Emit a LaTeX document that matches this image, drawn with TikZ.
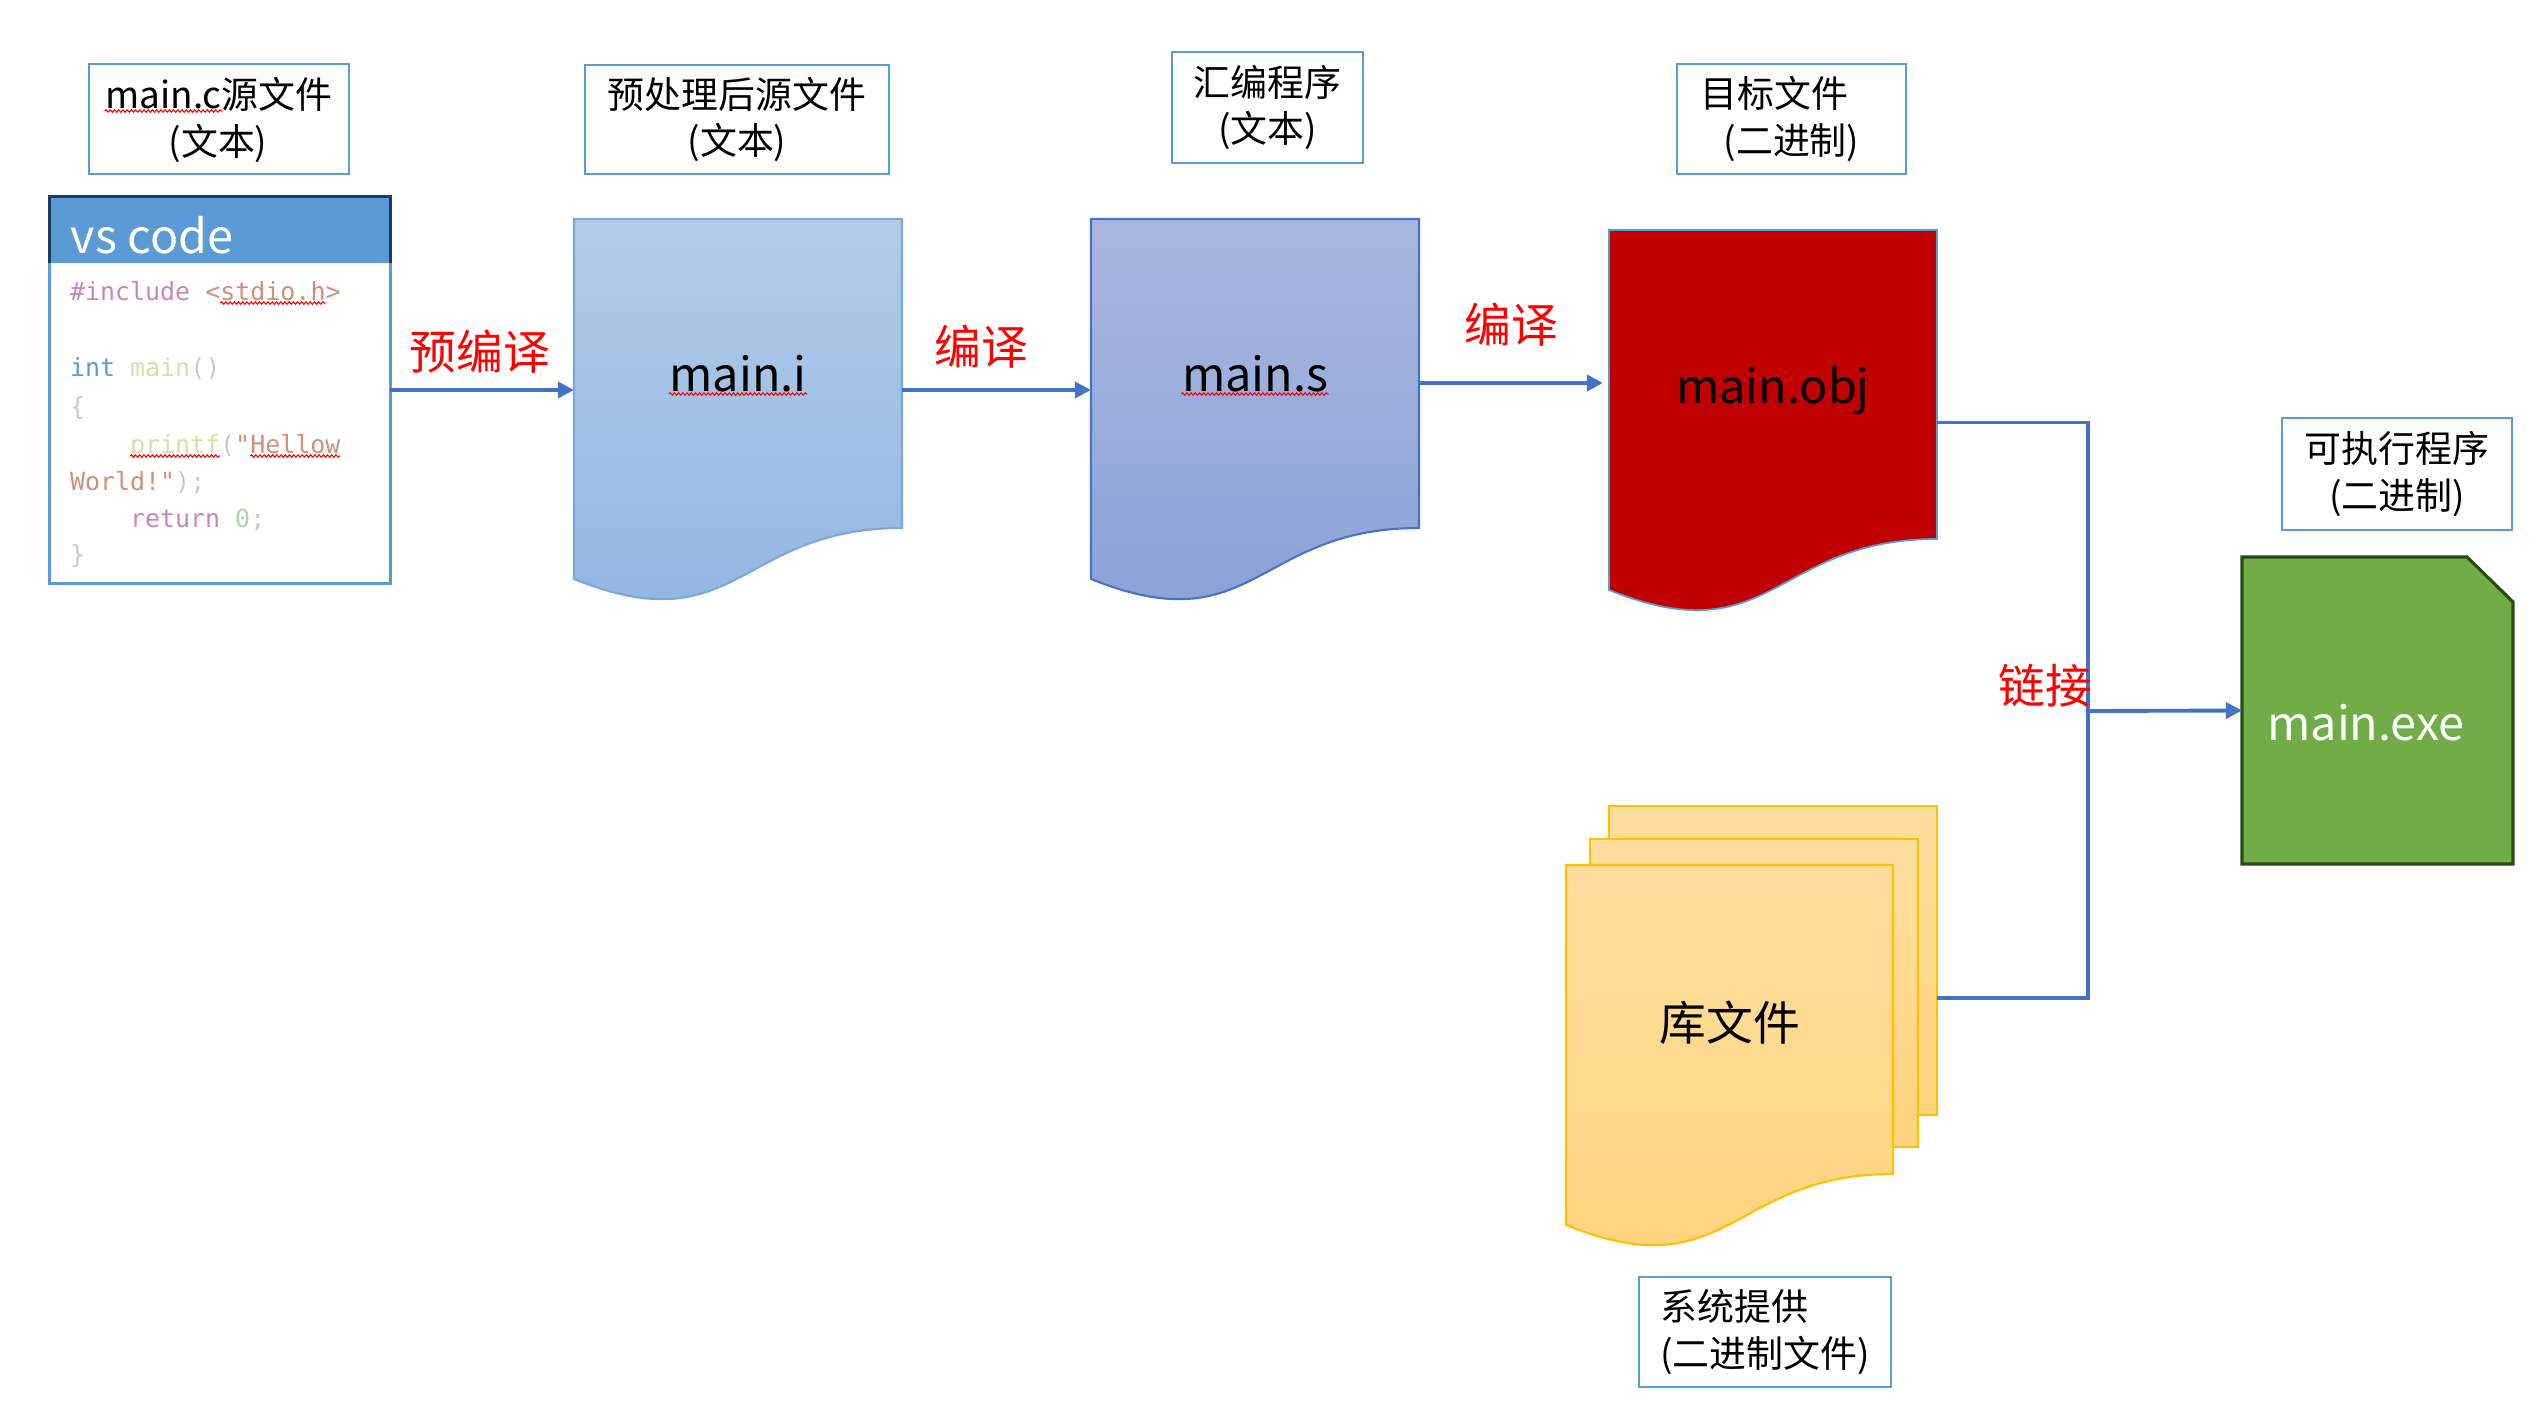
\documentclass[tikz,border=0pt]{standalone}
\usepackage{fontspec}
\setmainfont{Noto Sans CJK SC}
\setmonofont{DejaVu Sans Mono}
\usetikzlibrary{arrows.meta,decorations.pathmorphing}

\definecolor{boxblue}{HTML}{5B9BD5}
\definecolor{linkblue}{HTML}{4472C4}
\definecolor{navy}{HTML}{1F3A5F}
\definecolor{miTop}{HTML}{B2CBE8}
\definecolor{miBot}{HTML}{8FB5E2}
\definecolor{miEdge}{HTML}{7DA7D9}
\definecolor{msTop}{HTML}{A9B7DF}
\definecolor{msBot}{HTML}{88A0D7}
\definecolor{msEdge}{HTML}{4A72C4}
\definecolor{objRed}{HTML}{C00000}
\definecolor{libTop}{HTML}{FFDE9E}
\definecolor{libBot}{HTML}{FFD37C}
\definecolor{libEdge}{HTML}{FFC000}
\definecolor{exeGreen}{HTML}{70AD47}
\definecolor{exeEdge}{HTML}{2B4A18}
\definecolor{cpurple}{HTML}{C586C0}
\definecolor{corange}{HTML}{CE9178}
\definecolor{cblue}{HTML}{569CD6}
\definecolor{cyellow}{HTML}{DCDCAA}
\definecolor{cgrey}{HTML}{C8C8C8}
\definecolor{cgreen}{HTML}{B5CEA8}
\definecolor{labelred}{HTML}{FF0000}

\newcommand\lblfont{\fontsize{10.5pt}{13.1pt}\selectfont}
\newcommand\bigfont{\fontsize{13.3pt}{16pt}\selectfont}
\newcommand\codefont{\ttfamily\fontsize{7.1pt}{10.7pt}\selectfont}

% document shape: flat top, wavy bottom edge
\newcommand\docshape[4]{%
  \draw[#4] (#1,#2) -- ({#1+#3},#2) -- ({#1+#3},{#2+309})
    .. controls ({#1+#3/2},{#2+309}) and ({#1+#3/2},{#2+426}) .. (#1,{#2+360}) -- cycle;}
% red spell-check squiggle under a text node
\newcommand\squig[1]{%
  \draw[squiggle] ([yshift=-0.03cm]#1.base west) -- ([yshift=-0.03cm]#1.base east);}

\begin{document}
\begin{tikzpicture}[x=0.01cm,y=-0.01cm,
  arr/.style={draw=linkblue, line width=1.1pt, -{Triangle[length=0.16cm,width=0.16cm]}},
  lnk/.style={draw=linkblue, line width=1.1pt},
  lbox/.style={draw=boxblue, line width=0.6pt, inner sep=0pt, align=center, font=\lblfont},
  lbltxt/.style={anchor=base, inner sep=0pt, font=\lblfont},
  area/.style={inner sep=0pt, outer sep=0pt},
  bigtxt/.style={anchor=base, inner sep=0pt, font=\bigfont},
  redlbl/.style={inner sep=0pt, text=labelred, font=\bigfont},
  tok/.style={anchor=base west, inner sep=0pt, outer sep=0pt, font=\codefont},
  squiggle/.style={draw=red, line width=0.3pt, decorate,
    decoration={snake, amplitude=0.35pt, segment length=1.2pt}}]

\useasboundingbox (0,0) rectangle (2543,1409);

% ---- source editor ----
\node[area, minimum width=3.40cm, minimum height=3.86cm, draw=boxblue, line width=0.85pt] (code) at (220,390) {};
\node[area, minimum width=3.40cm, minimum height=0.66cm, anchor=north, fill=boxblue] (hdr) at (code.north) {};
\draw[navy, line width=0.85pt] (hdr.south west) -- (hdr.north west) -- (hdr.north east) -- (hdr.south east);
\node[anchor=base west, inner sep=0pt, text=white, font=\fontsize{13.3pt}{16pt}\selectfont] (hdrt) at (70,253) {vs code};

\node[tok, text=cpurple] (c1a) at (70,300) {\#include~\textcolor{corange}{<}};
\node[tok, text=corange] (c1b) at (c1a.base east) {stdio.h};
\node[tok, text=corange] (c1c) at (c1b.base east) {>};
\node[tok, text=cblue] (c2a) at (70,376) {int~\textcolor{cyellow}{main}\textcolor{cgrey}{()}};
\node[tok, text=cgrey] (c3a) at (70,415) {\{};
\node[tok, text=cyellow] (c4a) at (130,453) {printf};
\node[tok, text=cgrey] (c4b) at (c4a.base east) {(\textcolor{corange}{"}};
\node[tok, text=corange] (c4c) at (c4b.base east) {Hellow};
\node[tok, text=corange] (c5a) at (70,490) {World!"\textcolor{cgrey}{);}};
\node[tok, text=cpurple] (c6a) at (130,527) {return~\textcolor{cgreen}{0}\textcolor{cgrey}{;}};
\node[tok, text=cgrey] (c7a) at (70,563) {\}};
\squig{c1b}
\squig{c4a}
\squig{c4c}

% ---- main.i ----
\docshape{574}{219}{328}{draw=miEdge, line width=0.6pt, top color=miTop, bottom color=miBot}
\node[area, minimum width=3.28cm, minimum height=3.85cm] (mi) at (738,411.5) {};
\node[bigtxt] (mit) at (738,391) {main.i};
\squig{mit}

% ---- main.s ----
\docshape{1091}{219}{328}{draw=msEdge, line width=0.6pt, top color=msTop, bottom color=msBot}
\node[area, minimum width=3.28cm, minimum height=3.85cm] (ms) at (1255,411.5) {};
\node[bigtxt] (mst) at (1255,391) {main.s};
\squig{mst}

% ---- main.obj ----
\docshape{1609}{230}{328}{draw=boxblue, line width=0.5pt, fill=objRed}
\node[area, minimum width=3.28cm, minimum height=3.85cm] (obj) at (1773,422.5) {};
\node[bigtxt] (objt) at (1773,403) {main.obj};

% ---- library files (stacked sheets) ----
\draw[draw=libEdge, line width=0.6pt, top color=libTop, bottom color=libBot] (1609,806) rectangle (1937,1115);
\draw[draw=libEdge, line width=0.6pt, top color=libTop, bottom color=libBot] (1590,839) rectangle (1918,1147);
\docshape{1566}{865}{327}{draw=libEdge, line width=0.6pt, top color=libTop, bottom color=libBot}
\node[area, minimum width=3.28cm, minimum height=3.09cm] (lib) at (1773,960.5) {};
\node[bigtxt] (libt) at (1730,1040) {库文件};

% ---- main.exe ----
\draw[fill=exeGreen, draw=exeEdge, line width=0.9pt]
  (2242,557) -- (2467,557) -- (2513,602) -- (2513,864) -- (2242,864) -- cycle;
\node[area, minimum width=2.71cm, minimum height=3.07cm] (exe) at (2377.5,710.5) {};
\node[bigtxt, text=white] (exet) at (2366,740) {main.exe};

% ---- caption boxes ----
\node[lbox, minimum width=2.60cm, minimum height=1.10cm] (lb1) at (219,119) {};
\node[lbltxt] (lb1a) at (219,108) {main.c源文件};
\node[lbltxt] (lb1b) at (218,155) {(文本)};
\node[anchor=base west, inner sep=0pt, font=\lblfont] (lb1m) at (lb1a.base west) {\phantom{main.c}};
\squig{lb1m}
\node[lbox, minimum width=3.04cm, minimum height=1.09cm] (lb2) at (737,119.5) {预处理后源文件\\(文本)};
\node[lbox, minimum width=1.91cm, minimum height=1.11cm] (lb3) at (1267.5,107.5) {汇编程序\\(文本)};
\node[lbox, minimum width=2.29cm, minimum height=1.10cm] (lb4) at (1791.5,119) {目标文件\hspace*{0.34cm}\\(二进制)};
\node[lbox, minimum width=2.30cm, minimum height=1.12cm] (lb5) at (2397,474) {可执行程序\\(二进制)};
\node[lbox, minimum width=2.52cm, minimum height=1.10cm, align=left] (lb6) at (1765,1332) {系统提供\\(二进制文件)};

% ---- connectors ----
\draw[arr] (code.east) -- (code.east -| mi.west);
\draw[arr] (code.east -| mi.east) -- (code.east -| ms.west);
\draw[arr, shorten >=0.06cm] ([yshift=0.285cm]ms.east) -- ([yshift=0.285cm]ms.east -| obj.west);

\coordinate (j) at (2088,711);
\coordinate (libout) at (1937,998);
\draw[lnk] (obj.east) -| (j) |- (libout);
\draw[arr] (j) -- (exe.west);

% ---- step labels ----
\node[redlbl] (s1) at (480,352) {预编译};
\node[redlbl] (s2) at (981,347) {编译};
\node[redlbl] (s3) at (1511,325) {编译};
\node[redlbl] (s4) at (2045,686) {链接};

\end{tikzpicture}
\end{document}
